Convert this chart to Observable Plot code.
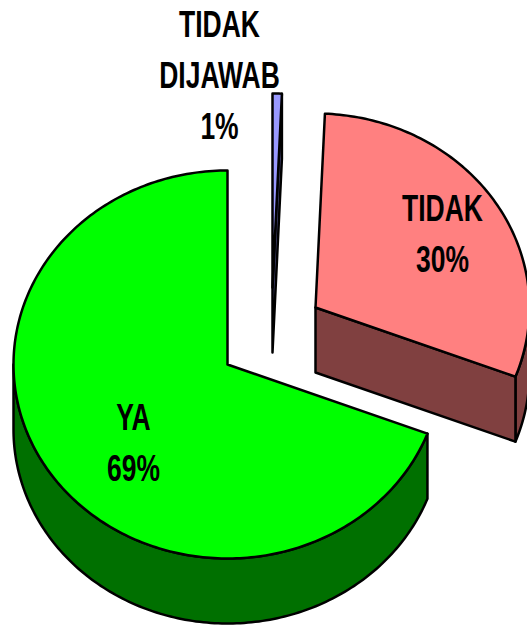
<!DOCTYPE html>
<html>
<head>
<meta charset="utf-8">
<style>html,body{margin:0;padding:0;background:#fff;overflow:hidden}</style>
<script src="https://cdn.jsdelivr.net/npm/d3@7"></script>
<script src="https://cdn.jsdelivr.net/npm/@observablehq/plot@0.6"></script>
</head>
<body>
<div id="chart"></div>
<script>
// Data (clockwise from 12 o'clock: blue sliver, pink slice, green slice)
const categories = ["TIDAK\nDIJAWAB", "TIDAK", "YA"];
const shares = [0.7, 30.1, 69.2];
const topColors = ["#9999FF", "#FF8080", "#00FF00"];
const sideColors = ["#4D4D80", "#804040", "#007000"];

// Layout of the exploded 3D pie
const apexX = [272, 315, 227], apexY = [287, 307, 364];
const labelX = [219, 442, 133], labelY = [71, 230, 439];
const rx = 214, ry = 194, depth = 65;

const total = d3.sum(shares);
let acc = 0;
const slices = shares.map((v, i) => {
  const a0 = acc / total * 2 * Math.PI; acc += v;
  const a1 = acc / total * 2 * Math.PI;
  return {i, a0, a1, cx: apexX[i], cy: apexY[i]};
});
const rim = (s, a, dz = 0) => ({x: s.cx + rx * Math.sin(a), y: s.cy - ry * Math.cos(a) + dz});
const arc = (s, a0, a1, dz = 0) => {
  const n = Math.max(2, Math.ceil(Math.abs(a1 - a0) / (Math.PI / 180)));
  return d3.range(n + 1).map(k => rim(s, a0 + (a1 - a0) * k / n, dz));
};
const poly = [];
let id = 0;
const add = (pts, fill) => { id++; [...pts, pts[0]].forEach(p => poly.push({...p, id, fill})); };
const apex = (s, dz = 0) => ({x: s.cx, y: s.cy + dz});

slices.forEach(s => {
  const side = sideColors[s.i], top = topColors[s.i];
  // visible outer wall: the part of the rim facing the viewer (PI/2 .. 3PI/2)
  const lo = Math.max(s.a0, Math.PI / 2), hi = Math.min(s.a1, 3 * Math.PI / 2);
  if (hi > lo) add([...arc(s, lo, hi), ...arc(s, hi, lo, depth)], side);
  // visible cut face: the closing edge of slices ending on the right half
  if (s.a1 < Math.PI) add([apex(s), rim(s, s.a1), rim(s, s.a1, depth), apex(s, depth)], side);
  // top face
  add([apex(s), ...arc(s, s.a0, s.a1)], top);
});

const labels = categories.map((c, i) => ({
  text: `${c}\n${Math.round(shares[i])}%`, x: labelX[i], y: labelY[i]
}));

const chart = Plot.plot({
  width: 527, height: 626,
  margin: 0,
  x: {domain: [0, 527], range: [0, 527], axis: null},
  y: {domain: [0, 626], range: [0, 626], axis: null},
  style: {background: "#fff"},
  marks: [
    Plot.line(poly, {
      x: "x", y: "y", z: "id", fill: "fill", stroke: "#000",
      strokeWidth: 2.5, strokeLinejoin: "round", curve: "linear"
    }),
    Plot.text(labels, {
      x: "x", y: "y", text: "text", fill: "#000",
      fontFamily: "'Liberation Sans',Arial,sans-serif",
      fontWeight: "bold", fontSize: 36, lineHeight: 1.42, textAnchor: "middle"
    })
  ]
});
// Condensed look of the reference lettering
d3.select(chart).selectAll("text").each(function () {
  const t = this.getAttribute("transform") || "";
  this.setAttribute("transform", `${t} scale(0.735,1)`);
});
document.getElementById("chart").appendChild(chart);
</script>
</body>
</html>
